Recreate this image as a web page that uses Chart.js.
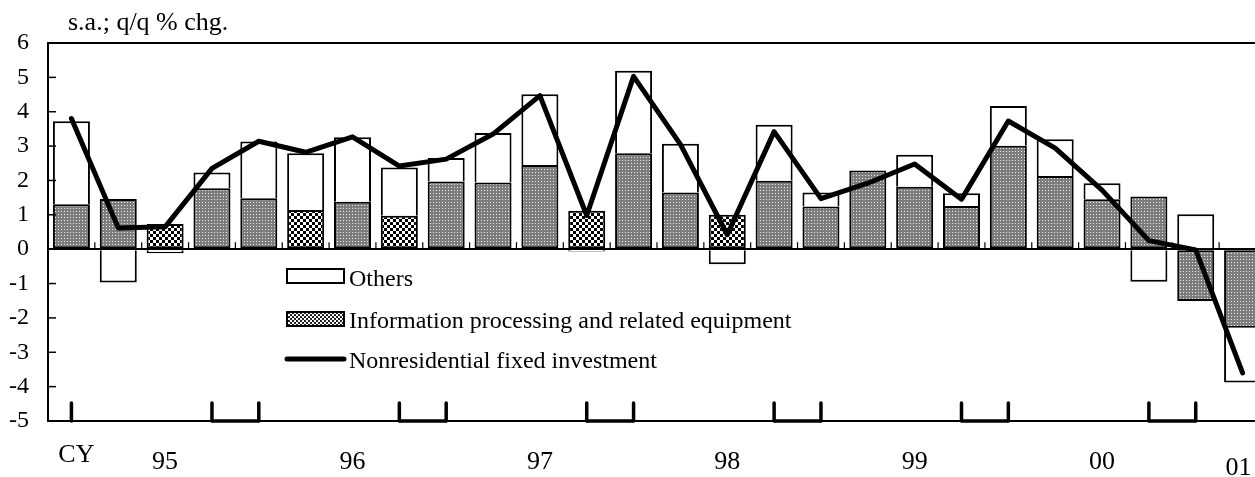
<!DOCTYPE html>
<html>
<head>
<meta charset="utf-8">
<script src="https://cdn.jsdelivr.net/npm/chart.js@4.4.0/dist/chart.umd.min.js"></script>
<style>
  html, body { margin: 0; padding: 0; background: #fff; overflow: hidden; }
  #wrap { width: 1255px; height: 477px; overflow: hidden; }
  canvas { display: block; }
</style>
</head>
<body>
<div id="wrap"><canvas id="chart-canvas" width="1266" height="477"></canvas></div>
<script>
// ### data ###
const QUARTERS = [
  "95Q1", "95Q2", "95Q3", "95Q4", "96Q1", "96Q2", "96Q3", "96Q4",
  "97Q1", "97Q2", "97Q3", "97Q4", "98Q1", "98Q2", "98Q3", "98Q4",
  "99Q1", "99Q2", "99Q3", "99Q4", "00Q1", "00Q2", "00Q3", "00Q4",
  "01Q1", "01Q2",
];
const OTHERS = [
  2.41, -0.97, -0.12, 0.46, 1.65, 1.65, 1.88, 1.41, 0.68, 1.44, 2.06, -0.07, 2.4,
  1.42, -0.44, 1.63, 0.41, 0, 0.93, 0.37, 1.16, 1.07, 0.47, -0.95, 1.02, -1.59,
];
const INFO_PROCESSING = [
  1.31, 1.46, 0.73, 1.77, 1.48, 1.14, 1.38, 0.97, 1.97, 1.94, 2.45, 1.12, 2.79,
  1.65, 1.0, 1.99, 1.24, 2.29, 1.82, 1.26, 3.01, 2.13, 1.45, 1.53, -1.51, -2.29,
];
const NONRESIDENTIAL = [
  3.8, 0.62, 0.65, 2.35, 3.14, 2.82, 3.27, 2.42, 2.62, 3.35, 4.47, 0.98, 5.03,
  3.05, 0.42, 3.42, 1.47, 1.92, 2.48, 1.45, 3.73, 2.94, 1.72, 0.25, -0.02, -3.6,
];
const Y_MIN = -5;
const Y_MAX = 6;
const YEAR_LABELS = ["CY", "95", "96", "97", "98", "99", "00", "01"];
const YEAR_LABEL_AT = [0, 2, 6, 10, 14, 18, 22, 25];
const YEAR_MARKS = [0, 3, 4, 7, 8, 11, 12, 15, 16, 19, 20, 23, 24];
// quarters drawn with the coarse checker fill in the original
const CHECKERED_QUARTERS = [2, 5, 7, 11, 14];

// ### colors / fonts ###
const BLACK = "#000000";
const WHITE = "#ffffff";
const FONT = '"Liberation Serif", "Times New Roman", serif';

const chartCanvas = document.getElementById("chart-canvas");
const ctx = chartCanvas.getContext("2d");

// ### fill patterns ###
function makePattern(size, drawTile) {
  const tile = document.createElement("canvas");
  tile.width = size;
  tile.height = size;
  drawTile(tile.getContext("2d"));
  return ctx.createPattern(tile, "repeat");
}

const FINE_GRAY = makePattern(3, (g) => {
  g.fillStyle = "#7c7c7c";
  g.fillRect(0, 0, 3, 3);
  g.fillStyle = "#eeeeee";
  g.fillRect(1, 1, 1, 1);
});

const COARSE_CHECK = makePattern(6, (g) => {
  g.fillStyle = WHITE;
  g.fillRect(0, 0, 6, 6);
  g.fillStyle = BLACK;
  g.fillRect(0, 0, 3, 3);
  g.fillRect(3, 3, 3, 3);
});

const LEGEND_CHECK = makePattern(4, (g) => {
  g.fillStyle = WHITE;
  g.fillRect(0, 0, 4, 4);
  g.fillStyle = "#222";
  g.fillRect(0, 0, 2, 2);
  g.fillRect(2, 2, 2, 2);
});

// ### drawing helpers ###
function line(c, x1, y1, x2, y2, width, cap) {
  c.save();
  c.strokeStyle = BLACK;
  c.lineWidth = width;
  c.lineCap = cap || "butt";
  c.beginPath();
  c.moveTo(x1, y1);
  c.lineTo(x2, y2);
  c.stroke();
  c.restore();
}

function drawLegend(c, area) {
  const boxX = area.left + 239;
  const textX = area.left + 301;
  c.save();
  c.font = `24px ${FONT}`;
  c.fillStyle = BLACK;
  c.textBaseline = "alphabetic";
  c.lineWidth = 2;

  // others
  c.fillStyle = WHITE;
  c.fillRect(boxX, area.top + 226, 57, 14);
  c.strokeStyle = BLACK;
  c.strokeRect(boxX, area.top + 226, 57, 14);
  c.fillStyle = BLACK;
  c.fillText("Others", textX, area.top + 243);

  // information processing
  c.fillStyle = LEGEND_CHECK;
  c.fillRect(boxX, area.top + 269, 57, 14);
  c.strokeRect(boxX, area.top + 269, 57, 14);
  c.fillStyle = BLACK;
  c.fillText("Information processing and related equipment", textX, area.top + 285);

  // nonresidential
  line(c, boxX, area.top + 316, boxX + 57, area.top + 316, 5, "round");
  c.fillText("Nonresidential fixed investment", textX, area.top + 325);
  c.restore();
}

const framePlugin = {
  id: "frame",
  afterDraw(chart) {
    const c = chart.ctx;
    const area = chart.chartArea;
    const xs = chart.scales.x;
    const ys = chart.scales.y;
    const zeroY = ys.getPixelForValue(0);

    // plot border
    c.save();
    c.strokeStyle = BLACK;
    c.lineWidth = 2;
    c.strokeRect(area.left, area.top, area.right - area.left, area.bottom - area.top);
    c.restore();

    // inward ticks on the value axis
    ys.ticks.forEach((t) => {
      const y = ys.getPixelForValue(t.value);
      line(c, area.left, y, area.left + 8, y, 1.5);
    });

    // small category ticks on the zero line
    for (let i = 1; i < QUARTERS.length; i++) {
      const x = (xs.getPixelForValue(i - 1) + xs.getPixelForValue(i)) / 2;
      line(c, x, zeroY, x, zeroY - 7, 1.2);
    }

    // year marks at the bottom
    YEAR_MARKS.forEach((idx, k) => {
      const x = xs.getPixelForValue(idx);
      line(c, x, area.bottom, x, area.bottom - 18, 3.5, "round");
      const next = YEAR_MARKS[k + 1];
      if (next === idx + 1) {
        line(c, x, area.bottom, xs.getPixelForValue(next), area.bottom, 3.5);
      }
    });

    // year labels
    c.save();
    c.fillStyle = BLACK;
    c.textAlign = "center";
    c.textBaseline = "alphabetic";
    c.font = `26px ${FONT}`;
    YEAR_LABELS.forEach((label, k) => {
      let x = xs.getPixelForValue(YEAR_LABEL_AT[k]);
      let y = area.bottom + 48;
      if (label === "CY") {
        x += 5;
        y = area.bottom + 41;
      }
      if (label === "01") {
        x -= 4;
        y = area.bottom + 54;
      }
      c.fillText(label, x, y);
    });

    // unit title
    c.textAlign = "left";
    c.font = `26px ${FONT}`;
    c.fillText("s.a.; q/q % chg.", 68, 30);
    c.restore();

    drawLegend(c, area);
  },
};

// ### chart ###
function renderChart() {
  Chart.defaults.font.family = FONT;
  Chart.defaults.color = BLACK;

  new Chart(chartCanvas, {
    data: {
      labels: QUARTERS,
      datasets: [
        {
          type: "line",
          label: "Nonresidential fixed investment",
          data: NONRESIDENTIAL,
          borderColor: BLACK,
          borderWidth: 5,
          borderCapStyle: "round",
          borderJoinStyle: "round",
          pointRadius: 0,
          tension: 0,
          stack: "line",
          order: 0,
        },
        {
          type: "bar",
          label: "Information processing and related equipment",
          data: INFO_PROCESSING,
          backgroundColor: INFO_PROCESSING.map((v, i) =>
            CHECKERED_QUARTERS.includes(i) ? COARSE_CHECK : FINE_GRAY
          ),
          borderColor: BLACK,
          borderWidth: 2,
          borderSkipped: false,
          barPercentage: 0.79,
          categoryPercentage: 1,
          stack: "bars",
          order: 1,
        },
        {
          type: "bar",
          label: "Others",
          data: OTHERS,
          backgroundColor: WHITE,
          borderColor: BLACK,
          borderWidth: 2,
          borderSkipped: "start",
          barPercentage: 0.79,
          categoryPercentage: 1,
          stack: "bars",
          order: 2,
        },
      ],
    },
    options: {
      responsive: false,
      animation: false,
      events: [],
      layout: { padding: { top: 43, right: 0, left: 0, bottom: 0 } },
      plugins: { legend: { display: false }, tooltip: { enabled: false } },
      scales: {
        x: {
          stacked: true,
          grid: { display: false },
          border: { display: false },
          ticks: { display: false },
          afterFit: (scale) => {
            scale.height = 56;
          },
        },
        y: {
          stacked: true,
          min: Y_MIN,
          max: Y_MAX,
          ticks: {
            stepSize: 1,
            padding: 19,
            color: BLACK,
            font: { size: 24 },
          },
          grid: {
            drawTicks: false,
            lineWidth: 2,
            color: (c) => (c.tick && c.tick.value === 0 ? BLACK : "transparent"),
          },
          border: { display: false },
          afterFit: (scale) => {
            scale.width = 48;
            scale.paddingTop = 0;
            scale.paddingBottom = 0;
          },
        },
      },
    },
    plugins: [framePlugin],
  });
}

// ### application start ###
renderChart();
</script>
</body>
</html>
